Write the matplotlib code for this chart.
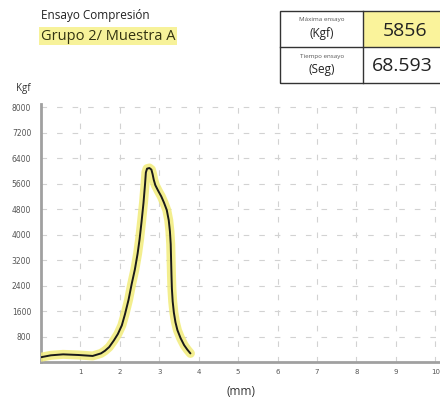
import matplotlib
matplotlib.use("Agg")
import matplotlib.pyplot as plt
from matplotlib.patches import Rectangle

# ---- data ----
x_mm = [0.00, 0.25, 0.56, 0.95, 1.31, 1.52, 1.62, 1.73, 1.85, 1.95, 2.05, 2.13,
        2.22, 2.30, 2.38, 2.45, 2.50, 2.55, 2.60, 2.64, 2.66, 2.69, 2.75, 2.80,
        2.83, 2.86, 2.90, 2.97, 3.05, 3.12, 3.19, 3.24, 3.27, 3.29, 3.30, 3.31,
        3.32, 3.34, 3.37, 3.41, 3.46, 3.54, 3.63, 3.71, 3.79]
kgf = [150, 210, 240, 220, 190, 270, 350, 470, 680, 880, 1150, 1500,
       1950, 2450, 2900, 3400, 3850, 4400, 5000, 5600, 5950, 6070, 6090, 6040,
       5900, 5720, 5550, 5380, 5200, 5000, 4770, 4450, 4100, 3700, 3200, 2700,
       2300, 1900, 1550, 1250, 1000, 750, 530, 390, 270]
x_ticks = [1, 2, 3, 4, 5, 6, 7, 8, 9, 10]
y_ticks = [800, 1600, 2400, 3200, 4000, 4800, 5600, 6400, 7200, 8000]
title1 = "Ensayo Compresión"
title2 = "Grupo 2/ Muestra A"
max_label = ("Máxima ensayo", "(Kgf)")
max_value = "5856"
time_label = ("Tiempo ensayo", "(Seg)")
time_value = "68.593"

plt.rcParams['font.family'] = ['Open Sans', 'DejaVu Sans']

W, H = 440, 403
fig = plt.figure(figsize=(W / 100, H / 100), dpi=100)
fig.patch.set_facecolor('white')

def fx(px):
    return px / W

def fy(py):
    return 1 - py / H

ax = fig.add_axes([fx(41), fy(362), fx(440) - fx(41), fy(104) - fy(362)])
ax.set_xlim(0, 10.12)
ax.set_ylim(0, 8100)

ax.plot(x_mm, kgf, color='#f2ec7a', lw=6.5, alpha=0.85, solid_capstyle='round',
        solid_joinstyle='round', zorder=3)
ax.plot(x_mm, kgf, color='#1a1a1a', lw=1.4, solid_capstyle='round',
        solid_joinstyle='round', zorder=4)

ax.set_xticks(x_ticks)
ax.set_yticks(y_ticks)
ax.set_xticklabels([str(v) for v in x_ticks], fontsize=5, color='#555555',
                   family=['DejaVu Sans'])
ax.set_yticklabels([str(v) for v in y_ticks], fontsize=5.5, color='#555555',
                   family=['DejaVu Sans'])
ax.tick_params(length=0)
ax.tick_params(axis='x', pad=5)
ax.tick_params(axis='y', pad=7)
ax.grid(True, color='#d2d2d2', lw=0.8, linestyle=(0, (5, 9)))
for s in ['top', 'right']:
    ax.spines[s].set_visible(False)
for s in ['left', 'bottom']:
    ax.spines[s].set_color('#a0a0a0')
    ax.spines[s].set_linewidth(2)
ax.set_axisbelow(True)

ax.set_xlabel("(mm)", fontsize=8.5, color='#333333', labelpad=7)

fig.text(fx(16), fy(88), "Kgf", fontsize=7, color='#333333', va='center', ha='left')

# titles
fig.text(fx(41), fy(16), title1, fontsize=8.5, color='#222222', va='center', ha='left')
fig.text(fx(41), fy(36), title2, fontsize=10.5, color='#333311', va='center', ha='left',
         bbox=dict(boxstyle='square,pad=0.12', facecolor='#f7f29a', edgecolor='none'))

# table
tl, tr, tt, tm, tb, tc = 280, 446, 10.7, 46.7, 83.3, 363.3
fig.patches.append(Rectangle((fx(tc), fy(tm)), fx(tr) - fx(tc), fy(tt) - fy(tm),
                             transform=fig.transFigure, facecolor='#faf39b',
                             edgecolor='none', zorder=1))
fig.patches.append(Rectangle((fx(tl), fy(tb)), fx(tr) - fx(tl), fy(tt) - fy(tb),
                             transform=fig.transFigure, facecolor='none',
                             edgecolor='#333333', lw=1.0, zorder=2))
fig.add_artist(plt.Line2D([fx(tl), fx(tr)], [fy(tm), fy(tm)], transform=fig.transFigure,
                          color='#333333', lw=1.0))
fig.add_artist(plt.Line2D([fx(tc), fx(tc)], [fy(tt), fy(tb)], transform=fig.transFigure,
                          color='#333333', lw=1.0))

cx = (tl + tc) / 2
fig.text(fx(cx), fy(20), max_label[0], fontsize=4.5, color='#555555', ha='center', va='center')
fig.text(fx(cx), fy(33.5), max_label[1], fontsize=8.5, color='#222222', ha='center', va='center')
fig.text(fx(cx), fy(56.5), time_label[0], fontsize=4.5, color='#555555', ha='center', va='center')
fig.text(fx(cx), fy(70), time_label[1], fontsize=8.5, color='#222222', ha='center', va='center')
fig.text(fx(405), fy(31), max_value, fontsize=14, color='#222222', ha='center', va='center')
fig.text(fx(402), fy(66), time_value, fontsize=14, color='#222222', ha='center', va='center')

fig.savefig("out.png", dpi=100, facecolor='white')
